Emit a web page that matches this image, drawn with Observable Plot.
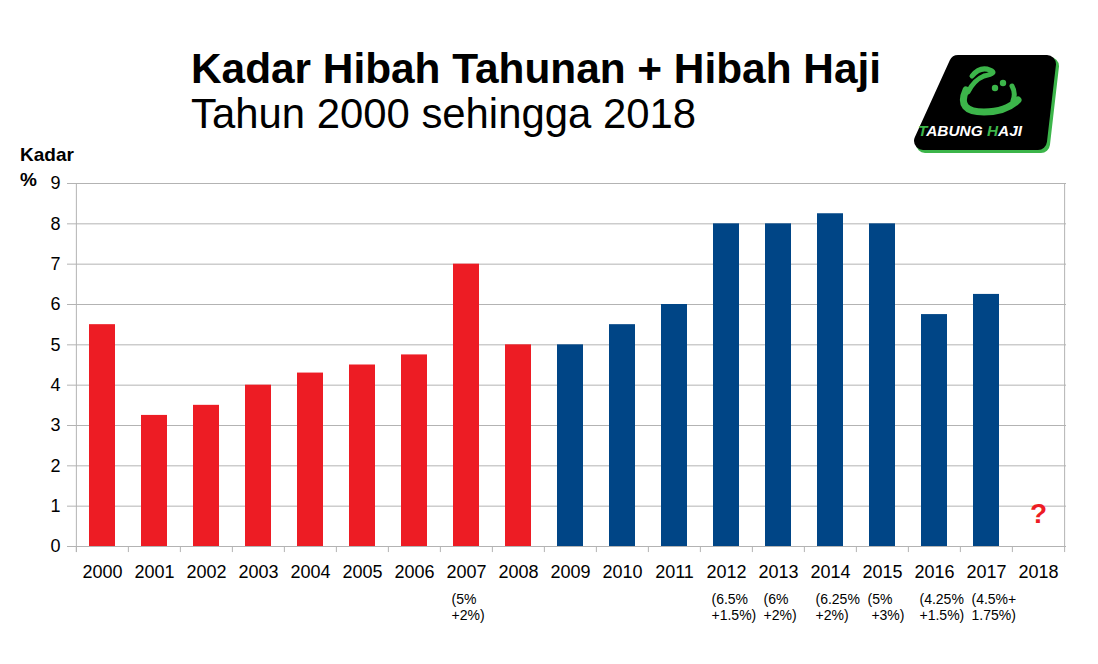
<!DOCTYPE html>
<html>
<head>
<meta charset="utf-8">
<script src="https://cdn.jsdelivr.net/npm/d3@7"></script>
<script src="https://cdn.jsdelivr.net/npm/@observablehq/plot@0.6"></script>
<style>
  html, body { margin: 0; padding: 0; background: #fff; }
  #wrap { position: relative; width: 1098px; height: 664px; overflow: hidden; font-family: "Liberation Sans", Arial, sans-serif; }
  .abs { position: absolute; }
  .ylab { font-weight: bold; font-size: 19px; color: #000; line-height: 1; }
</style>
</head>
<body>
<div id="wrap">
  <svg class="abs" style="left:0;top:0" width="900" height="140">
    <text x="191" y="83" font-family="Liberation Sans, Arial, sans-serif" font-weight="bold" font-size="42" textLength="690" lengthAdjust="spacingAndGlyphs">Kadar Hibah Tahunan + Hibah Haji</text>
    <text x="191" y="128" font-family="Liberation Sans, Arial, sans-serif" font-size="42" textLength="505" lengthAdjust="spacingAndGlyphs">Tahun 2000 sehingga 2018</text>
  </svg>
  <svg class="abs" style="left:900px;top:40px" width="180" height="125">
    <polygon points="60,26 150,26 141,104 25,104" fill="#3cb54a" stroke="#3cb54a" stroke-width="18" stroke-linejoin="round"/>
    <polygon points="58,24 147,24 138,101 23,101" fill="#000" stroke="#000" stroke-width="18" stroke-linejoin="round"/>
    <g fill="none" stroke="#3cb54a" stroke-linecap="round">
      <path d="M 72 36 Q 80 26 90 30 Q 98 33 84 36 Q 74 40 68 52" stroke-width="5"/>
      <path d="M 66 50 Q 56 72 84 72 Q 106 72 118 60" stroke-width="7"/>
      <path d="M 112 46 Q 116 53 113 61" stroke-width="5"/>
    </g>
    <g fill="#3cb54a">
      <circle cx="95" cy="48" r="3.2"/>
      <circle cx="103" cy="43" r="3.2"/>
    </g>
    <text x="18" y="96" font-family="Liberation Sans, Arial, sans-serif" font-weight="bold" font-style="italic" font-size="14" textLength="104" lengthAdjust="spacingAndGlyphs" fill="#fff"><tspan fill="#3cb54a">T</tspan>ABUNG <tspan fill="#3cb54a">H</tspan>AJI</text>
  </svg>
  <div class="abs ylab" style="left:20px;top:145px">Kadar</div>
  <div class="abs ylab" style="left:20px;top:170px">%</div>
  <div id="chart" class="abs" style="left:0;top:150px"></div>
</div>
<script>
const years = ["2000","2001","2002","2003","2004","2005","2006","2007","2008","2009","2010","2011","2012","2013","2014","2015","2016","2017","2018"];
const rates = [5.5, 3.25, 3.5, 4, 4.3, 4.5, 4.75, 7, 5, 5, 5.5, 6, 8, 8, 8.25, 8, 5.75, 6.25, null];
const yTicks = [0, 1, 2, 3, 4, 5, 6, 7, 8, 9];
const noteYears = ["2007", "2012", "2013", "2014", "2015", "2016", "2017"];
const noteTexts = ["(5%\n+2%)", "(6.5%\n+1.5%)", "(6%\n+2%)", "(6.25%\n+2%)", "(5%\n +3%)", "(4.25%\n+1.5%)", "(4.5%+\n1.75%)"];
const unknownYear = ["2018"];

const RED = "#ed1c24", BLUE = "#004586", GRID = "#b3b3b3";
const W = 1098, H = 514, ML = 73, MR = 32, MT = 33, MB = 118;
const step = (W - ML - MR) / years.length;

const data = years.map((year, i) => ({year, rate: rates[i]})).filter(d => d.rate != null);
const notes = noteYears.map((year, i) => ({year, text: noteTexts[i]}));

const chart = Plot.plot({
  width: W, height: H,
  marginTop: MT, marginBottom: MB, marginLeft: ML, marginRight: MR,
  x: {domain: years, paddingInner: 0.5, paddingOuter: 0.25, align: 0.5},
  y: {domain: [0, 9]},
  style: {fontFamily: "Liberation Sans, Arial, sans-serif", fontSize: "18px", color: "#000", background: "transparent"},
  marks: [
    Plot.gridY(yTicks, {stroke: GRID, strokeOpacity: 1}),
    Plot.barY(data, {x: "year", y: "rate", fill: d => +d.year <= 2008 ? RED : BLUE}),
    Plot.ruleY([0], {stroke: GRID}),
    Plot.ruleX(years, {x: d => d, dx: -step / 2, y1: -0.15, y2: 0, stroke: GRID}),
    Plot.ruleX(years.slice(0, 1), {x: d => d, dx: -step / 2, y1: -0.15, y2: 9, stroke: GRID}),
    Plot.ruleX(years.slice(-1), {x: d => d, dx: step / 2, y1: -0.15, y2: 9, stroke: GRID}),
    Plot.axisY(yTicks, {tickSize: 6, tickPadding: 7, fontSize: 18, stroke: GRID, fill: "#000", label: null}),
    Plot.axisX({tickSize: 0, tickPadding: 19, fontSize: 18, fill: "#000", label: null}),
    Plot.text(notes, {x: "year", y: () => 0, text: "text", dy: 47, dx: -15, textAnchor: "start", lineAnchor: "top", fontSize: 14, lineHeight: 1.1, fill: "#000"}),
    Plot.text(unknownYear, {x: d => d, y: () => 0.8, text: () => "?", fill: RED, fontWeight: "bold", fontSize: 28})
  ]
});
document.getElementById("chart").appendChild(chart);
</script>
</body>
</html>
